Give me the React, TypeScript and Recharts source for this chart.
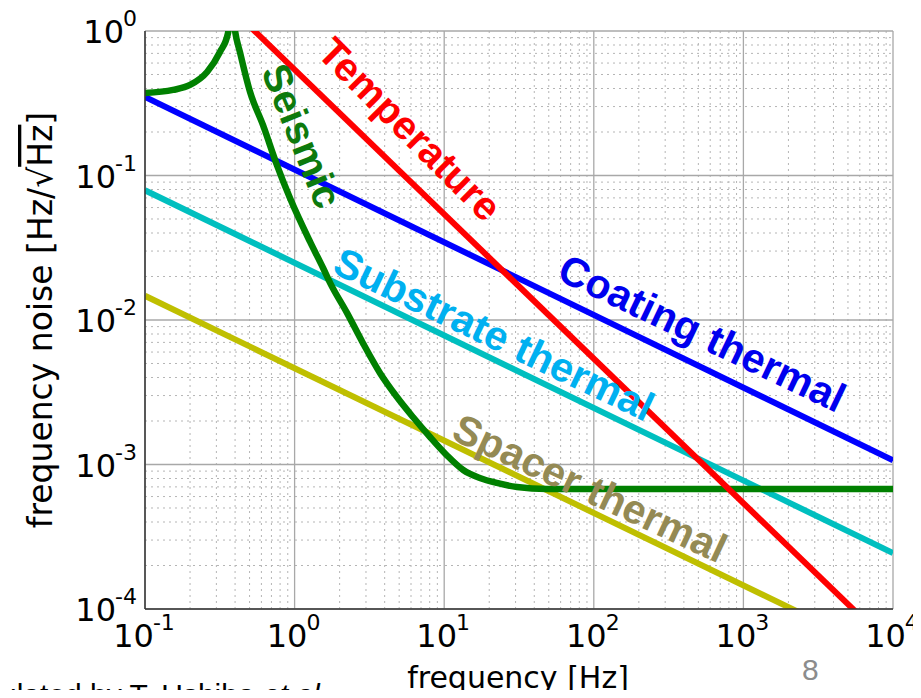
import React from "react";
import { LineChart, Line, XAxis, YAxis, CartesianGrid } from "recharts";

// axis ticks (decades) and their exponent labels
const X_TICKS = [0.1, 1, 10, 100, 1000, 10000];
const X_EXP = ["-1", "0", "1", "2", "3", "4"];
const Y_TICKS = [0.0001, 0.001, 0.01, 0.1, 1];
const Y_EXP = ["-4", "-3", "-2", "-1", "0"];
const MINOR_DIGITS = [2, 3, 4, 5, 6, 7, 8, 9];

const minorsOf = (decades: number[]) =>
  decades.slice(0, -1).flatMap((d) => MINOR_DIGITS.map((m) => m * d));
const X_MINOR = minorsOf(X_TICKS);
const Y_MINOR = minorsOf(Y_TICKS);

// series (frequency [Hz], noise [Hz/rtHz])
const temperatureF = [0.1, 10000];
const temperatureV = [5.4, 0.000054];
const coatingF = [0.1, 10000];
const coatingV = [0.35, 0.00107];
const substrateF = [0.1, 10000];
const substrateV = [0.079, 0.000244];
const spacerF = [0.1, 10000];
const spacerV = [0.0147, 0.000046];
const seismicF = [
  0.1, 0.154, 0.2, 0.26, 0.317, 0.359, 0.38, 0.4, 0.431, 0.504, 0.615, 0.762,
  0.931, 1.27, 1.55, 1.73, 2.24, 2.86, 3.72, 4.83, 6.18, 8.04, 10.4, 13.4,
  17.3, 22.5, 30.7, 48.6, 100, 1000, 10000,
];
const seismicV = [
  0.372, 0.391, 0.423, 0.52, 0.716, 0.968, 1.6, 1.0, 0.716, 0.378, 0.223,
  0.118, 0.0698, 0.0347, 0.0229, 0.018, 0.0112, 0.00693, 0.0043, 0.00293,
  0.00213, 0.00155, 0.00116, 0.000916, 0.000807, 0.000745, 0.000698, 0.000676,
  0.000676, 0.000676, 0.000676,
];

const pts = (fs: number[], vs: number[]) => fs.map((f, i) => ({ f, v: vs[i] }));

const TICK_FONT = "'DejaVu Sans', sans-serif";
const LABEL_FONT = "'Liberation Sans', Arial, sans-serif";

const XTick = (props: any) => {
  const { x, y, payload } = props;
  const exp = X_EXP[X_TICKS.indexOf(payload.value)];
  return (
    <text x={x - 1} y={y + 38} textAnchor="middle" fontFamily={TICK_FONT} fontSize={32} fill="#000">
      <tspan>10</tspan>
      <tspan dy={-17} dx={-1} fontSize={22}>{exp}</tspan>
    </text>
  );
};

const YTick = (props: any) => {
  const { x, y, payload } = props;
  const exp = Y_EXP[Y_TICKS.indexOf(payload.value)];
  return (
    <text x={x - 8} y={y + 12} textAnchor="end" fontFamily={TICK_FONT} fontSize={32} fill="#000">
      <tspan>10</tspan>
      <tspan dy={-17} dx={-1} fontSize={22}>{exp}</tspan>
    </text>
  );
};

const logX = { type: "number" as const, scale: "log" as const, domain: [0.1, 10000], allowDataOverflow: true };
const logY = { type: "number" as const, scale: "log" as const, domain: [0.0001, 1], allowDataOverflow: true };

export default function App() {
  return (
    <div style={{ position: "relative", width: 921, height: 698, margin: -8, background: "#fff", overflow: "hidden" }}>
      <style>{"html, body { overflow: hidden; } .recharts-wrapper, .recharts-surface { overflow: visible !important; }"}</style>
      <LineChart width={921} height={698} margin={{ top: 31, right: 28, bottom: 29, left: 45 }}>
        <CartesianGrid
          verticalValues={X_MINOR}
          horizontalValues={Y_MINOR}
          stroke="#b5b5b5"
          strokeDasharray="2 4"
          fill="none"
        />
        <CartesianGrid
          verticalValues={X_TICKS}
          horizontalValues={Y_TICKS}
          stroke="#a8a8a8"
          strokeWidth={1.3}
          fill="none"
        />
        <XAxis
          dataKey="f"
          {...logX}
          ticks={X_TICKS}
          interval={0}
          height={60}
          tickSize={0}
          tickMargin={0}
          tickLine={false}
          tick={<XTick />}
          axisLine={{ stroke: "#333", strokeWidth: 1.5 }}
        />
        <YAxis
          {...logY}
          ticks={Y_TICKS}
          interval={0}
          width={100}
          tickSize={0}
          tickMargin={0}
          tickLine={false}
          tick={<YTick />}
          axisLine={{ stroke: "#333", strokeWidth: 1.5 }}
        />
        {/* inward tick marks on all four sides */}
        <XAxis xAxisId="tM" orientation="top" mirror height={0} {...logX} ticks={X_TICKS} interval={0} tick={false} tickSize={8} stroke="#000" axisLine={{ stroke: "#333", strokeWidth: 1.5 }} />
        <XAxis xAxisId="tm" orientation="top" mirror height={0} {...logX} ticks={X_MINOR} interval={0} tick={false} tickSize={4} stroke="#000" axisLine={false} />
        <XAxis xAxisId="bM" orientation="bottom" mirror height={0} {...logX} ticks={X_TICKS} interval={0} tick={false} tickSize={8} stroke="#000" axisLine={false} />
        <XAxis xAxisId="bm" orientation="bottom" mirror height={0} {...logX} ticks={X_MINOR} interval={0} tick={false} tickSize={4} stroke="#000" axisLine={false} />
        <YAxis yAxisId="lM" orientation="left" mirror width={0} {...logY} ticks={Y_TICKS} interval={0} tick={false} tickSize={8} stroke="#000" axisLine={false} />
        <YAxis yAxisId="lm" orientation="left" mirror width={0} {...logY} ticks={Y_MINOR} interval={0} tick={false} tickSize={4} stroke="#000" axisLine={false} />
        <YAxis yAxisId="rM" orientation="right" mirror width={0} {...logY} ticks={Y_TICKS} interval={0} tick={false} tickSize={8} stroke="#000" axisLine={{ stroke: "#333", strokeWidth: 1.5 }} />
        <YAxis yAxisId="rm" orientation="right" mirror width={0} {...logY} ticks={Y_MINOR} interval={0} tick={false} tickSize={4} stroke="#000" axisLine={false} />

        <Line data={pts(spacerF, spacerV)} dataKey="v" type="linear" stroke="#bfbf00" strokeWidth={6} dot={false} isAnimationActive={false} />
        <Line data={pts(substrateF, substrateV)} dataKey="v" type="linear" stroke="#00bfbf" strokeWidth={6} dot={false} isAnimationActive={false} />
        <Line data={pts(coatingF, coatingV)} dataKey="v" type="linear" stroke="#0000ff" strokeWidth={6} dot={false} isAnimationActive={false} />
        <Line data={pts(seismicF, seismicV)} dataKey="v" type="monotone" stroke="#008000" strokeWidth={6.5} dot={false} isAnimationActive={false} />
        <Line data={pts(temperatureF, temperatureV)} dataKey="v" type="linear" stroke="#ff0000" strokeWidth={6} dot={false} isAnimationActive={false} />
      </LineChart>

      <svg width={921} height={698} style={{ position: "absolute", left: 0, top: 0, pointerEvents: "none" }}>
        <g fontFamily={LABEL_FONT} fontWeight="bold" fontSize={41}>
          <text transform="translate(400,139) rotate(45)" textAnchor="middle" fill="#ff0000" fontSize={40}>Temperature</text>
          <text transform="translate(289,141) rotate(68)" textAnchor="middle" fill="#0d7a0d" fontSize={40}>Seismic</text>
          <text transform="translate(696,346) rotate(25.5)" textAnchor="middle" fill="#0000ee">Coating thermal</text>
          <text transform="translate(488,347) rotate(25.5)" textAnchor="middle" fill="#00b0f0">Substrate thermal</text>
          <text transform="translate(584,501) rotate(25)" textAnchor="middle" fill="#948a54">Spacer thermal</text>
        </g>
        <text transform="translate(52,320) rotate(-90)" textAnchor="middle" fontFamily={TICK_FONT} fontSize={33} fill="#000">
          frequency noise [Hz/√<tspan style={{ textDecoration: "overline" }}>Hz</tspan>]
        </text>
        <text x={518} y={688} textAnchor="middle" fontFamily={TICK_FONT} fontSize={30} fill="#000">
          frequency [Hz]
        </text>
        <text x={802} y={680} fontFamily={LABEL_FONT} fontSize={30} fill="#8c8c8c">8</text>
        <text x={-60} y={705} fontFamily={LABEL_FONT} fontSize={30} fill="#000">
          Calculated by T. Ushiba <tspan fontStyle="italic">et al.</tspan>
        </text>
      </svg>
    </div>
  );
}
